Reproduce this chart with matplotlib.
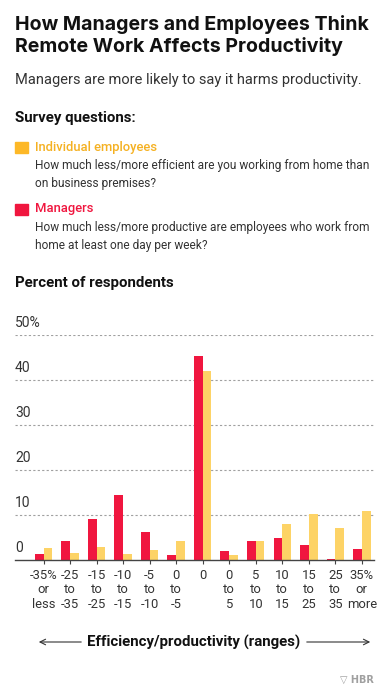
import matplotlib.pyplot as plt
from matplotlib.transforms import blended_transform_factory

# data
groups = ["-35%\nor\nless", "-25\nto\n-35", "-15\nto\n-25", "-10\nto\n-15", "-5\nto\n-10",
          "0\nto\n-5", "0", "0\nto\n5", "5\nto\n10", "10\nto\n15", "15\nto\n25",
          "25\nto\n35", "35%\nor\nmore"]
managers = [1.4, 4.3, 9.2, 14.5, 6.4, 1.1, 45.3, 2.1, 4.3, 5.0, 3.5, 0.4, 2.5]
employees = [2.7, 1.6, 2.9, 1.4, 2.3, 4.2, 42.1, 1.1, 4.4, 8.1, 10.4, 7.2, 11.0]
yticks = [0, 10, 20, 30, 40, 50]
ylabels = ["0", "10", "20", "30", "40", "50%"]

RED = "#F0163F"
YEL = "#FDD366"
YEL_DARK = "#FDB827"
W, H = 389, 691
BODY = ["Roboto", "DejaVu Sans"]

fig = plt.figure(figsize=(W / 100, H / 100), dpi=100)


def px(x, y):
    return x / W, 1 - y / H


def txt(x, y, s, **kw):
    fx, fy = px(x, y)
    fig.text(fx, fy, s, **kw)


# header
txt(15, 25, "How Managers and Employees Think", fontsize=14.1, fontweight="bold",
    family="Inter", va="center", color="#111111")
txt(15, 46.5, "Remote Work Affects Productivity", fontsize=14.1, fontweight="bold",
    family="Inter", va="center", color="#111111")
txt(15, 80, "Managers are more likely to say it harms productivity.", fontsize=10.55,
    family="Roboto", va="center", color="#333333")
txt(15, 118, "Survey questions:", fontsize=10.8, fontweight="semibold",
    family="Roboto", va="center", color="#111111")

# legend
fig.patches.append(plt.Rectangle(px(15, 153), 13 / W, 11 / H, transform=fig.transFigure,
                                 color=YEL_DARK))
txt(35, 147, "Individual employees", fontsize=9.4, fontweight="medium", family=BODY,
    va="center", color="#F5B122")
txt(35, 165, "How much less/more efficient are you working from home than",
    fontsize=8.55, family=BODY, va="center", color="#333333")
txt(35, 183, "on business premises?", fontsize=8.55, family=BODY, va="center", color="#333333")
fig.patches.append(plt.Rectangle(px(15, 215), 13 / W, 11 / H, transform=fig.transFigure,
                                 color=RED))
txt(35, 209, "Managers", fontsize=9.4, fontweight="medium", family=BODY,
    va="center", color=RED)
txt(35, 227, "How much less/more productive are employees who work from",
    fontsize=8.55, family=BODY, va="center", color="#333333")
txt(35, 245, "home at least one day per week?", fontsize=8.55, family=BODY,
    va="center", color="#333333")

txt(15, 283, "Percent of respondents", fontsize=10.8, fontweight="semibold",
    family="Roboto", va="center", color="#111111")

# chart
left, right = 15, 374
top, base = 335.3, 560.3
ax = fig.add_axes([left / W, 1 - base / H, (right - left) / W, (base - top) / H])
x = list(range(len(groups)))
bw = 0.33
ax.bar([i - bw / 2 for i in x], managers, width=bw, color=RED, zorder=3)
ax.bar([i + bw / 2 for i in x], employees, width=bw, color=YEL, zorder=3)
ax.set_xlim(-1.08, 12.46)
ax.set_ylim(0, 50)
for s in ax.spines.values():
    s.set_visible(False)
for v in yticks[1:]:
    ax.axhline(v, color="#A0A0A0", lw=0.8, ls=(0, (2, 2)), zorder=1)
ax.axhline(0, color="#444444", lw=1, zorder=4, clip_on=False)
ax.set_yticks([])
ax.set_xticks(x)
ax.set_xticklabels(groups, fontsize=9.4, family=BODY, color="#333333", linespacing=1.15)
ax.tick_params(axis="x", length=3, width=0.8, color="#444444", pad=3)
tr = blended_transform_factory(ax.transAxes, ax.transData)
for v, lab in zip(yticks, ylabels):
    ax.text(0.0, v + 1.2, lab, transform=tr, fontsize=10, family=BODY,
            color="#333333", va="bottom", ha="left")

# axis title with arrows
txt(194, 642, "Efficiency/productivity (ranges)", fontsize=10.8, fontweight="semibold",
    family="Roboto", va="center", ha="center", color="#111111")
for x0, x1 in [(84, 36), (304, 373)]:
    fig.add_artist(plt.Annotation("", xy=px(x1, 642), xytext=px(x0, 642),
                                  xycoords="figure fraction", textcoords="figure fraction",
                                  arrowprops=dict(arrowstyle="->", color="#333333", lw=0.8)))

txt(374, 680, "\u25BD HBR", fontsize=7, fontweight="bold", family="DejaVu Sans",
    va="center", ha="right", color="#A0A0A0")

fig.savefig("out.png", dpi=100)
